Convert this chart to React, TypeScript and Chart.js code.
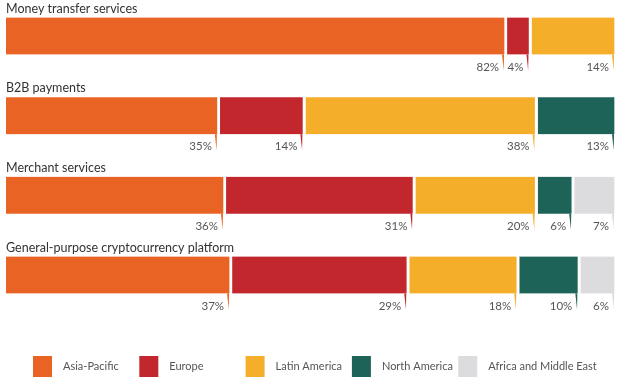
import React, { useEffect, useRef } from "react";
import { Chart, registerables } from "chart.js";

Chart.register(...registerables);

const categories = [
  "Money transfer services",
  "B2B payments",
  "Merchant services",
  "General-purpose cryptocurrency platform",
];
const regions = ["Asia-Pacific", "Europe", "Latin America", "North America", "Africa and Middle East"];
const asiaPacific = [82, 35, 36, 37];
const europe = [4, 14, 31, 29];
const latinAmerica = [14, 38, 20, 18];
const northAmerica = [null, 13, 6, 10];
const africaMiddleEast = [null, null, 7, 6];
const colors = ["#E96424", "#C1272D", "#F5AE2A", "#1E6358", "#DCDCDE"];

const GAP = 3;
const FONT = "Lato, 'Open Sans', sans-serif";

const overlayPlugin = {
  id: "overlay",
  afterDatasetsDraw(chart: any) {
    const ctx = chart.ctx;
    ctx.save();
    // titles
    ctx.font = `12.5px ${FONT}`;
    ctx.fillStyle = "#333";
    ctx.textAlign = "left";
    ctx.textBaseline = "alphabetic";
    categories.forEach((c, i) => {
      const el = chart.getDatasetMeta(0).data[i];
      const top = el.y - el.height / 2;
      ctx.fillText(c, chart.chartArea.left, top - 5);
    });
    // labels and ticks
    chart.data.datasets.forEach((ds: any, di: number) => {
      const meta = chart.getDatasetMeta(di);
      meta.data.forEach((el: any, i: number) => {
        const v = ds.data[i];
        if (!v) return;
        const right = el.x - GAP;
        const bottom = el.y + el.height / 2;
        ctx.fillStyle = ds.backgroundColor;
        ctx.beginPath();
        ctx.moveTo(right - 2, bottom);
        ctx.lineTo(right, bottom);
        ctx.lineTo(right - 0.3, bottom + 16);
        ctx.closePath();
        ctx.fill();
        ctx.font = `11.5px ${FONT}`;
        ctx.fillStyle = "#555";
        ctx.textAlign = "right";
        ctx.fillText(`${v}%`, right - 5, bottom + 16);
      });
    });
    // legend
    chart.data.datasets.forEach((ds: any, di: number) => {
      const x = 33 + di * 106.3;
      const y = 356;
      ctx.fillStyle = ds.backgroundColor;
      ctx.fillRect(x, y, 19, 21);
      ctx.font = `11px ${FONT}`;
      ctx.fillStyle = "#555";
      ctx.textAlign = "left";
      ctx.textBaseline = "middle";
      ctx.fillText(ds.label, x + 30, y + 10.5);
      ctx.textBaseline = "alphabetic";
    });
    ctx.restore();
  },
};

export default function App() {
  const ref = useRef<HTMLCanvasElement>(null);
  useEffect(() => {
    document.body.style.margin = "0";
    const series = [asiaPacific, europe, latinAmerica, northAmerica, africaMiddleEast];
    const chart = new Chart(ref.current!, {
      type: "bar",
      data: {
        labels: categories,
        datasets: regions.map((r, i) => ({
          label: r,
          data: series[i],
          backgroundColor: colors[i],
          borderColor: "#ffffff",
          borderWidth: (c: any) =>
            c.raw ? { top: 0, bottom: 0, left: 0, right: GAP } : 0,
          borderSkipped: false,
          barThickness: 37,
          clip: false,
        })),
      },
      options: {
        indexAxis: "y",
        animation: false,
        responsive: true,
        maintainAspectRatio: false,
        layout: { padding: { left: 6, right: 3, top: 36, bottom: 107 } },
        scales: {
          x: { stacked: true, display: false, min: 0, max: 100, grid: { display: false } },
          y: { stacked: true, display: false, offset: false, grid: { display: false } },
        },
        plugins: {
          legend: { display: false },
          tooltip: { enabled: false },
        },
      },
      plugins: [overlayPlugin],
    } as any);
    return () => chart.destroy();
  }, []);
  return (
    <div style={{ width: 620, height: 382, position: "relative" }}>
      <canvas ref={ref} />
    </div>
  );
}
